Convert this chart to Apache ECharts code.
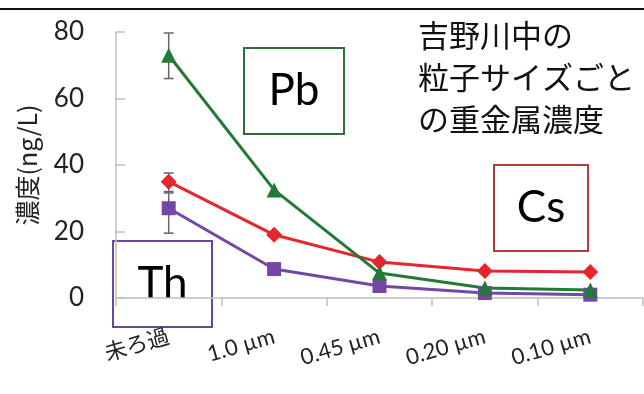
<!DOCTYPE html>
<html>
<head>
<meta charset="utf-8">
<script src="https://cdn.jsdelivr.net/npm/echarts@6/dist/echarts.min.js"></script>
<style>
  html, body { margin: 0; padding: 0; background: #fff; }
  #chart { width: 644px; height: 394px; }
</style>
</head>
<body>
<div id="chart"></div>
<script>
// 粒子サイズ（ろ過段階）
const categories = ['未ろ過', '1.0 µm', '0.45 µm', '0.20 µm', '0.10 µm'];

// 濃度 (ng/L)
const pbValues = [73, 32.5, 7.5, 3, 2.4];
const csValues = [35, 19, 10.8, 8.1, 7.8];
const thValues = [27, 8.7, 3.6, 1.5, 1];

// 誤差範囲（未ろ過のみ）
const pbErr = [[66, 79.7]];
const csErr = [[32, 37.6]];
const thErr = [[19.5, 31.6]];

const yTicks = [0, 20, 40, 60, 80];

const FONT = "Lato, 'Noto Sans CJK JP', sans-serif";
const JP = "'Noto Sans CJK JP', sans-serif";

function errSeries(name, err) {
  return {
    name: name,
    type: 'custom',
    z: 1,
    data: err.map((e, i) => [i, e[0], e[1]]),
    renderItem: (params, api) => {
      const lo = api.coord([api.value(0), api.value(1)]);
      const hi = api.coord([api.value(0), api.value(2)]);
      const w = 5;
      const style = { stroke: '#666', lineWidth: 1.5 };
      return {
        type: 'group',
        children: [
          { type: 'line', shape: { x1: lo[0], y1: lo[1], x2: hi[0], y2: hi[1] }, style },
          { type: 'line', shape: { x1: lo[0] - w, y1: lo[1], x2: lo[0] + w, y2: lo[1] }, style },
          { type: 'line', shape: { x1: hi[0] - w, y1: hi[1], x2: hi[0] + w, y2: hi[1] }, style },
        ],
      };
    },
  };
}

function lineSeries(name, data, color, symbol, size) {
  return {
    name: name,
    type: 'line',
    data: data,
    z: 3,
    symbol: symbol,
    symbolSize: size,
    lineStyle: { color: color, width: 3 },
    itemStyle: { color: color },
  };
}

const labelBox = (x, y, w, h, color, text) => ({
  type: 'group',
  left: x,
  top: y,
  children: [
    { type: 'rect', shape: { x: 0, y: 0, width: w, height: h },
      style: { fill: '#fff', stroke: color, lineWidth: 2 } },
    { type: 'text', x: w / 2, y: h / 2,
      style: { text: text, font: '44px ' + FONT, fill: '#000',
               align: 'center', verticalAlign: 'middle' } },
  ],
});

const chart = echarts.init(document.getElementById('chart'));
chart.setOption({
  animation: false,
  backgroundColor: '#fff',
  grid: { left: 116, right: 1, top: 32, bottom: 96, containLabel: false },
  xAxis: {
    type: 'category',
    data: categories,
    boundaryGap: true,
    axisLine: { lineStyle: { color: '#bfbfbf', width: 1.5 } },
    axisTick: { show: true, length: 8, lineStyle: { color: '#bfbfbf', width: 1.5 } },
    axisLabel: { rotate: 16, fontSize: 22, color: '#222', fontFamily: FONT, margin: 38 },
  },
  yAxis: {
    type: 'value',
    min: 0,
    max: 80,
    interval: 20,
    name: '濃度(ng/L)',
    nameLocation: 'middle',
    nameGap: 76,
    nameTextStyle: { fontSize: 25, color: '#222', fontFamily: JP },
    axisLine: { show: true, lineStyle: { color: '#bfbfbf', width: 1.5 } },
    axisTick: { show: true, inside: true, length: 9, lineStyle: { color: '#bfbfbf', width: 1.5 } },
    splitLine: { show: false },
    axisLabel: {
      fontSize: 26, color: '#222', fontFamily: FONT, margin: 32,
      formatter: v => (yTicks.includes(v) ? String(v) : ''),
    },
  },
  series: [
    errSeries('Th誤差', thErr),
    errSeries('Cs誤差', csErr),
    errSeries('Pb誤差', pbErr),
    lineSeries('Th', thValues, '#7447a6', 'rect', 14),
    lineSeries('Cs', csValues, '#e8242c', 'diamond', 16),
    lineSeries('Pb', pbValues, '#237a36', 'triangle', 15),
  ],
  graphic: [
    { type: 'line', shape: { x1: 0, y1: 9, x2: 644, y2: 9 },
      style: { stroke: '#111', lineWidth: 2 } },
    { type: 'text', left: 418, top: 14,
      style: { text: '吉野川中の\n粒子サイズごと\nの重金属濃度', font: '31px ' + JP,
               lineHeight: 42, fill: '#111' } },
    labelBox(243, 47, 100, 86, '#2f6e3b', 'Pb'),
    labelBox(493, 164, 94, 86, '#b03a3e', 'Cs'),
    labelBox(112, 240, 99, 86, '#6a4a97', 'Th'),
  ],
});
</script>
</body>
</html>
